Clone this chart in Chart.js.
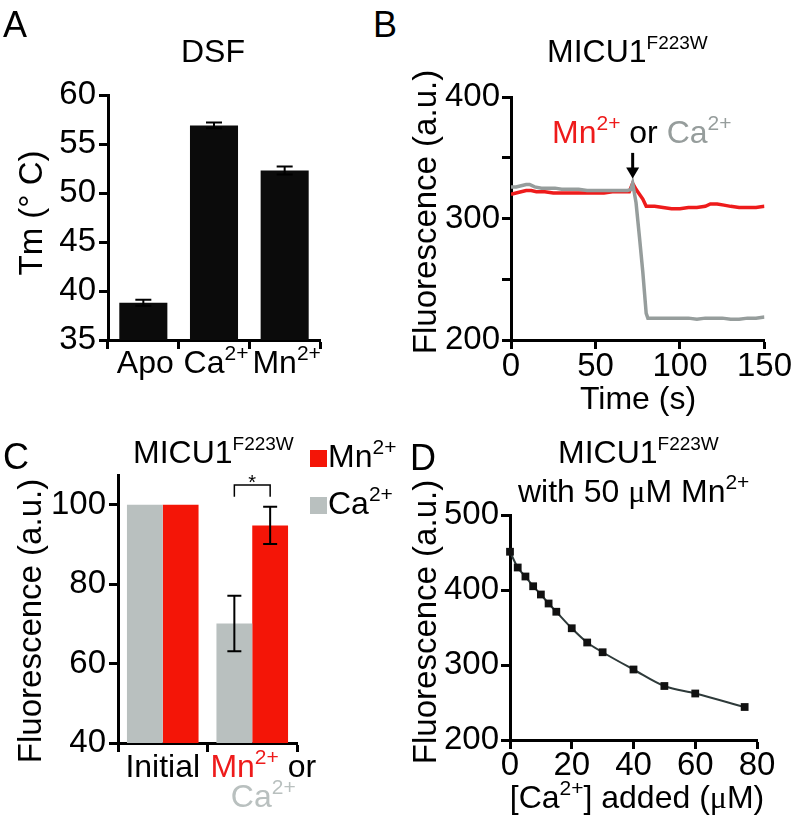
<!DOCTYPE html>
<html>
<head>
<meta charset="utf-8">
<script src="https://cdn.jsdelivr.net/npm/chart.js@4.4.1/dist/chart.umd.min.js"></script>
<style>
  body { margin: 0; background: #fff; }
  #fig { position: relative; width: 793px; height: 822px; overflow: hidden; font-family: "Liberation Sans", Arial, sans-serif; }
  #fig canvas { position: absolute; }
  .t { position: absolute; line-height: 1; white-space: nowrap; color: #000; }
  .s { font-size: 21px; position: relative; top: -13px; }
  .f { font-size: 19px; position: relative; top: -13px; }
  .mu { font-family: "Liberation Serif", "Times New Roman", serif; }
  .key { position: absolute; width: 17px; height: 17px; }
</style>
</head>
<body>
<div id="fig">
  <canvas id="chartA" width="340" height="400" style="left:0;top:0"></canvas>
  <canvas id="chartB" width="393" height="400" style="left:400px;top:0"></canvas>
  <canvas id="chartC" width="340" height="422" style="left:0;top:400px"></canvas>
  <canvas id="chartD" width="393" height="422" style="left:400px;top:400px"></canvas>
</div>
<script>
// A: DSF melting temperature
const dsfLabels = ['Apo', 'Ca2+', 'Mn2+'];
const dsfTm = [38.8, 56.9, 52.3];
const dsfErr = [0.3, 0.3, 0.4];

// B: fluorescence trace, Mn2+ or Ca2+ added at ~72 s
const timeGray = [0, 3, 6, 9, 11, 14, 18, 22, 26, 30, 35, 40, 45, 50, 55, 60, 65, 69, 71, 72, 74, 76, 78, 80, 81, 85, 90, 95, 100, 105, 110, 115, 120, 125, 130, 135, 140, 145, 150];
const fluorGray = [326, 326, 327, 328, 328, 326, 325, 325, 325, 324, 324, 324, 323, 323, 323, 323, 323, 323, 324, 329, 313, 285, 256, 222, 218, 218, 218, 218, 218, 218, 217, 218, 218, 218, 217, 217, 218, 218, 219];
const timeRed = [0, 3, 6, 9, 12, 15, 20, 25, 30, 35, 40, 45, 50, 55, 60, 65, 70, 72, 74, 76, 78, 80, 82, 85, 90, 95, 100, 105, 110, 115, 118, 122, 126, 130, 135, 140, 145, 150];
const fluorRed = [320, 321, 322, 323, 323, 322, 322, 321, 321, 321, 321, 321, 321, 321, 322, 322, 322, 329, 324, 320, 316, 310, 310, 310, 309, 308, 308, 309, 309, 310, 312, 312, 311, 310, 309, 309, 309, 310];
const arrowAt = 72, arrowFrom = 354, arrowTo = 333;

// C: normalised fluorescence
const barGroups = ['Initial', 'Mn2+ or Ca2+'];
const caBars = [100, 70.1];
const caErr = [0, 7];
const mnBars = [100, 94.8];
const mnErr = [0, 4.7];

// D: Ca2+ titration in presence of 50 uM Mn2+
const caAdded = [0, 2.5, 5, 7.5, 10, 12.5, 15, 20, 25, 30, 40, 50, 60, 76];
const fluorTitr = [451, 430, 418, 405, 394, 382, 371, 349, 330, 317, 294, 272, 262, 244];

const RED = '#ee1b1b', GRAY = '#969d9c', BAR_RED = '#f41507', BAR_GRAY = '#b9c0bf';
const FAMILY = '"Liberation Sans", Arial, sans-serif';
Chart.defaults.font.family = FAMILY;
Chart.defaults.color = '#000';

const fig = document.getElementById('fig');
const sup = s => s.replace(/(\d\+)/g, '<span class="s">$1</span>');

function txt(html, x, base, size, align, color) {
  const d = document.createElement('div');
  d.className = 't';
  d.innerHTML = html;
  d.style.fontSize = size + 'px';
  d.style.left = x + 'px';
  d.style.top = (base - 0.8465 * size) + 'px';
  if (color) d.style.color = color;
  if (align === 'center') d.style.transform = 'translateX(-50%)';
  fig.appendChild(d);
  return d;
}
function vtxt(html, cx, cy, size) {
  const d = document.createElement('div');
  d.className = 't';
  d.innerHTML = html;
  d.style.fontSize = size + 'px';
  d.style.left = cx + 'px';
  d.style.top = cy + 'px';
  d.style.transform = 'translate(-50%,-50%) rotate(-90deg)';
  fig.appendChild(d);
}

// axis helpers
function axisOpts(o) {
  return {
    type: o.type || 'linear',
    min: o.min, max: o.max,
    offset: o.type === 'category',
    border: { color: '#000', width: 3 },
    grid: { drawOnChartArea: false, drawTicks: true, tickLength: 9, tickWidth: 3, color: '#000', offset: o.type === 'category' },
    ticks: {
      display: o.labels !== false,
      stepSize: o.step,
      autoSkip: false, maxRotation: 0,
      padding: o.pad == null ? 2 : o.pad,
      font: { size: 33, lineHeight: 1 },
      callback: o.cb
    },
    afterBuildTicks: o.keep ? s => { s.ticks = s.ticks.filter(t => o.keep(t.value)); } : undefined,
    afterFit: s => { if (o.w) s.width = o.w; if (o.h) s.height = o.h; }
  };
}
const base = (padTop, padRight) => ({
  responsive: false, animation: false, devicePixelRatio: 1,
  layout: { padding: { top: padTop, right: padRight, left: 0, bottom: 0 } },
  plugins: { legend: { display: false }, tooltip: { enabled: false } }
});

const errorBars = {
  id: 'errorBars',
  afterDatasetsDraw(chart, args, o) {
    const ctx = chart.ctx, y = chart.scales.y;
    chart.data.datasets.forEach((ds, i) => {
      if (!ds.errors) return;
      chart.getDatasetMeta(i).data.forEach((bar, j) => {
        const e = ds.errors[j];
        if (!e) return;
        const top = y.getPixelForValue(ds.data[j] + e);
        const bot = y.getPixelForValue(ds.data[j] - e);
        ctx.save();
        ctx.strokeStyle = '#000';
        ctx.lineWidth = o.width || 2;
        ctx.beginPath();
        ctx.moveTo(bar.x, top); ctx.lineTo(bar.x, bot);
        ctx.moveTo(bar.x - o.cap, top); ctx.lineTo(bar.x + o.cap, top);
        ctx.moveTo(bar.x - o.cap, bot); ctx.lineTo(bar.x + o.cap, bot);
        ctx.stroke();
        ctx.restore();
      });
    });
  }
};

// ---------- A ----------
const chartA = new Chart(document.getElementById('chartA'), {
  type: 'bar',
  data: {
    labels: dsfLabels,
    datasets: [{ data: dsfTm, errors: dsfErr, backgroundColor: '#0b0b0b', categoryPercentage: 0.68, barPercentage: 1 }]
  },
  options: Object.assign(base(95, 20), {
    scales: {
      x: axisOpts({ type: 'category', labels: false, h: 60 }),
      y: axisOpts({ min: 35, max: 60, step: 5, w: 108, pad: 3 })
    }
  }),
  plugins: [errorBars]
});
chartA.options.plugins.errorBars = { cap: 8, width: 2 };
chartA.update();

// ---------- B ----------
const arrow = {
  id: 'addArrow',
  afterDatasetsDraw(chart) {
    const ctx = chart.ctx, x = chart.scales.x, y = chart.scales.y;
    const px = x.getPixelForValue(arrowAt), y0 = y.getPixelForValue(arrowFrom), y1 = y.getPixelForValue(arrowTo);
    ctx.save();
    ctx.strokeStyle = '#000'; ctx.fillStyle = '#000'; ctx.lineWidth = 3;
    ctx.beginPath(); ctx.moveTo(px, y0); ctx.lineTo(px, y1 - 9); ctx.stroke();
    ctx.beginPath(); ctx.moveTo(px - 6.5, y1 - 11); ctx.lineTo(px + 6.5, y1 - 11); ctx.lineTo(px, y1); ctx.closePath(); ctx.fill();
    ctx.restore();
  }
};
new Chart(document.getElementById('chartB'), {
  type: 'line',
  data: {
    datasets: [
      { data: timeGray.map((t, i) => ({ x: t, y: fluorGray[i] })), borderColor: GRAY, borderWidth: 3.5, pointRadius: 0, tension: 0 },
      { data: timeRed.map((t, i) => ({ x: t, y: fluorRed[i] })), borderColor: RED, borderWidth: 3.5, pointRadius: 0, tension: 0 }
    ]
  },
  options: Object.assign(base(97, 28), {
    scales: {
      x: axisOpts({ min: 0, max: 150, step: 50, h: 60, pad: 1 }),
      y: axisOpts({ min: 200, max: 400, step: 50, w: 111, pad: 2, cb: v => (v % 100 === 0 ? v : '') })
    }
  }),
  plugins: [arrow]
});

// ---------- C ----------
const bracket = {
  id: 'sigBracket',
  afterDatasetsDraw(chart) {
    const ctx = chart.ctx, y = chart.scales.y;
    const a = chart.getDatasetMeta(0).data[1].x, b = chart.getDatasetMeta(1).data[1].x;
    const top = y.getPixelForValue(105), low = y.getPixelForValue(102);
    ctx.save();
    ctx.strokeStyle = '#000'; ctx.lineWidth = 1.5;
    ctx.beginPath(); ctx.moveTo(a, low); ctx.lineTo(a, top); ctx.lineTo(b, top); ctx.lineTo(b, low); ctx.stroke();
    ctx.fillStyle = '#000'; ctx.font = '20px ' + FAMILY; ctx.textAlign = 'center';
    ctx.fillText('*', (a + b) / 2, top + 4);
    ctx.restore();
  }
};
const chartC = new Chart(document.getElementById('chartC'), {
  type: 'bar',
  data: {
    labels: barGroups,
    datasets: [
      { label: 'Ca2+', data: caBars, errors: caErr, backgroundColor: BAR_GRAY, categoryPercentage: 0.8, barPercentage: 1 },
      { label: 'Mn2+', data: mnBars, errors: mnErr, backgroundColor: BAR_RED, categoryPercentage: 0.8, barPercentage: 1 }
    ]
  },
  options: Object.assign(base(75, 43), {
    scales: {
      x: axisOpts({ type: 'category', labels: false, h: 79 }),
      y: axisOpts({ min: 40, max: 107.5, step: 20, w: 118, pad: 3, keep: v => v <= 100 })
    }
  }),
  plugins: [errorBars, bracket]
});
chartC.options.plugins.errorBars = { cap: 7, width: 2 };
chartC.update();

// ---------- D ----------
new Chart(document.getElementById('chartD'), {
  type: 'scatter',
  data: {
    datasets: [{
      data: caAdded.map((c, i) => ({ x: c, y: fluorTitr[i] })),
      showLine: true, borderColor: '#2e3a3a', borderWidth: 2,
      cubicInterpolationMode: 'monotone',
      pointStyle: 'rect', pointRadius: 5.5, pointBackgroundColor: '#111', pointBorderColor: '#111', pointBorderWidth: 0,
      clip: false
    }]
  },
  options: Object.assign(base(115, 36), {
    scales: {
      x: axisOpts({ min: 0, max: 80, step: 20, h: 82, pad: 0 }),
      y: axisOpts({ min: 200, max: 500, step: 100, w: 110, pad: 2 })
    }
  })
});

// ---------- text ----------
txt('A', 3, 37, 36); txt('B', 373, 37, 36); txt('C', 3, 469, 36); txt('D', 410, 470, 36);

// A
txt('DSF', 213, 62, 32, 'center');
vtxt('Tm (° C)', 30, 213, 33);
dsfLabels.forEach((l, i) => txt(sup(l), chartA.scales.x.getPixelForValue(i) + 2, 373, 32, 'center'));

// B
txt('MICU1<span class="f">F223W</span>', 547, 62, 32);
vtxt('Fluorescence (a.u.)', 424, 212, 33);
txt('Time (s)', 638, 409, 32, 'center');
txt('<span style="color:' + RED + '">' + sup('Mn2+') + '</span> or <span style="color:' + GRAY + '">' + sup('Ca2+') + '</span>', 552, 143, 32);

// C
txt('MICU1<span class="f">F223W</span>', 133, 463, 32);
vtxt('Fluorescence (a.u.)', 29, 621, 33);
const colorIon = s => {
  const c = /^Mn/.test(s) ? RED : (/^Ca/.test(s) ? BAR_GRAY : '#000');
  return '<span style="color:' + c + '">' + sup(s) + '</span>';
};
barGroups.forEach((g, i) => {
  const parts = g.split(' or ');
  const cx = chartC.scales.x.getPixelForValue(i);
  if (parts.length === 1) { txt(sup(g), cx, 777, 32, 'center'); return; }
  txt(colorIon(parts[0]) + ' or', cx + 11, 777, 32, 'center');
  txt(colorIon(parts[1]), cx + 11, 807, 32, 'center');
});
[1, 0].forEach((di, k) => {
  const ds = chartC.data.datasets[di];
  const key = document.createElement('div');
  key.className = 'key';
  key.style.background = ds.backgroundColor;
  key.style.left = '310px';
  key.style.top = (450 + k * 47) + 'px';
  fig.appendChild(key);
  txt(sup(ds.label), 328, 467 + k * 47, 32);
});

// D
txt('MICU1<span class="f">F223W</span>', 558, 463, 32);
txt('with 50 <span class="mu">μ</span>M Mn<span class="s">2+</span>', 518, 502, 32);
vtxt('Fluorescence (a.u.)', 424, 622, 33);
txt('[Ca<span class="s">2+</span>] added (<span class="mu">μ</span>M)', 637, 808, 32, 'center');
</script>
</body>
</html>
